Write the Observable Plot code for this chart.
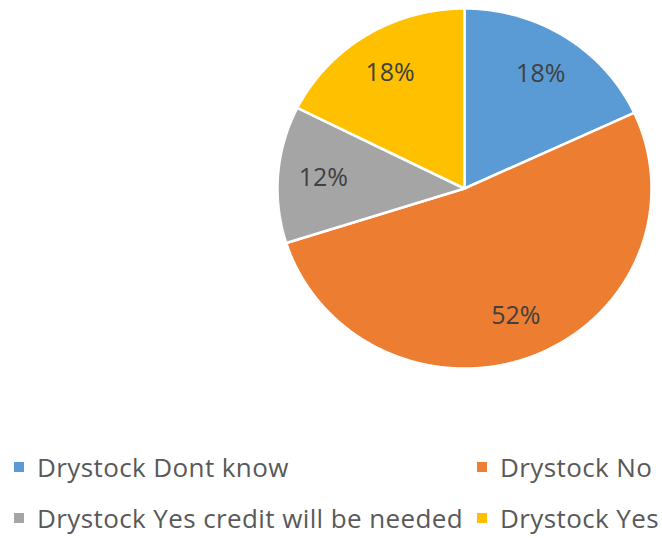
<!DOCTYPE html>
<html>
<head>
<meta charset="utf-8">
<script src="https://cdn.jsdelivr.net/npm/d3@7"></script>
<script src="https://cdn.jsdelivr.net/npm/@observablehq/plot@0.6"></script>
<style>
  html, body { margin: 0; padding: 0; background: #fff; }
  #wrap { width: 662px; height: 538px; position: relative; overflow: hidden; font-family: "Open Sans", sans-serif; }
  #chart { position: absolute; left: 0; top: 0; }
  #legend { position: absolute; left: 0; top: 441px; width: 662px; display: grid;
            grid-template-columns: 463px 199px; grid-auto-rows: 51px; padding-left: 14px; box-sizing: border-box; }
  .item { display: flex; align-items: center; color: #595959; font-size: 26px; letter-spacing: 0.4px; white-space: nowrap; height: 51px; }
  .sw { width: 10px; height: 10px; margin-right: 13px; flex: none; }
</style>
</head>
<body>
<div id="wrap">
  <div id="chart"></div>
  <div id="legend"></div>
</div>
<script>
const categories = ["Drystock Dont know", "Drystock No", "Drystock Yes credit will be needed", "Drystock Yes"];
const values = [18.1, 52.0, 12.3, 17.6];
const colors = ["#5B9BD5", "#ED7D31", "#A5A5A5", "#FFC000"];

const total = d3.sum(values);
const pieData = [];
const labels = [];
let acc = 0;
categories.forEach((c, i) => {
  const a0 = acc / total * 2 * Math.PI;
  acc += values[i];
  const a1 = acc / total * 2 * Math.PI;
  pieData.push({key: c, x: 0, y: 0});
  const n = Math.max(2, Math.ceil((a1 - a0) / (Math.PI / 360)));
  for (let k = 0; k <= n; k++) {
    const a = a0 + (a1 - a0) * k / n;
    pieData.push({key: c, x: Math.sin(a), y: Math.cos(a)});
  }
  pieData.push({key: c, x: 0, y: 0});
  const am = (a0 + a1) / 2;
  labels.push({key: c, x: 0.757 * Math.sin(am), y: 0.757 * Math.cos(am), text: Math.round(values[i] / total * 100) + "%"});
});

const plot = Plot.plot({
  width: 662,
  height: 440,
  margin: 0,
  x: {domain: [-1, 1], range: [277, 651], axis: null},
  y: {domain: [-1, 1], range: [368, 8], axis: null},
  color: {domain: categories, range: colors},
  style: {fontFamily: "Open Sans, sans-serif", background: "white"},
  marks: [
    Plot.line(pieData, {x: "x", y: "y", z: "key", fill: "key", stroke: "white", strokeWidth: 2.5, strokeLinejoin: "miter", curve: "linear"}),
    Plot.text(labels, {x: "x", y: "y", text: "text", fill: "#404040", fontSize: 25, textAnchor: "middle", lineAnchor: "middle", style: "letter-spacing:0.8px"})
  ]
});
document.getElementById("chart").appendChild(plot);

const legend = document.getElementById("legend");
categories.forEach((c, i) => {
  const d = document.createElement("div");
  d.className = "item";
  d.innerHTML = `<span class="sw" style="background:${colors[i]}"></span><span>${c}</span>`;
  legend.appendChild(d);
});
</script>
</body>
</html>
